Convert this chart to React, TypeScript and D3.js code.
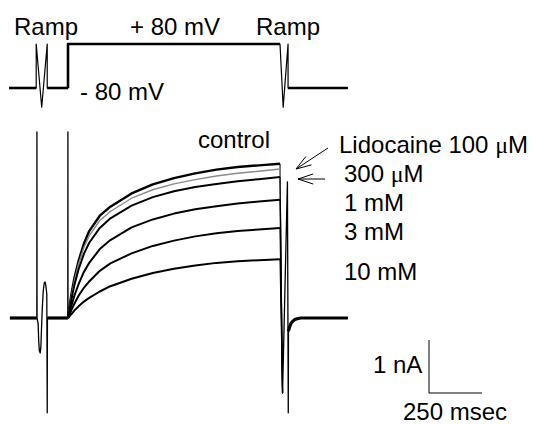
import React from "react";
import * as d3 from "d3";

// time (ms) from step onset, current (nA)
const stepTimes = [0, 15, 30, 50, 75, 100, 150, 200, 300, 400, 500, 600, 700, 800, 900, 1000];
const control = [0, 0.42, 0.75, 1.08, 1.4, 1.64, 1.93, 2.1, 2.35, 2.52, 2.64, 2.73, 2.8, 2.85, 2.88, 2.91];
const lido100uM = [0, 0.38, 0.7, 1.02, 1.33, 1.55, 1.84, 2.01, 2.26, 2.42, 2.53, 2.61, 2.68, 2.73, 2.77, 2.81];
const lido300uM = [0, 0.33, 0.62, 0.92, 1.21, 1.42, 1.7, 1.88, 2.12, 2.28, 2.39, 2.47, 2.53, 2.58, 2.62, 2.66];
const lido1mM = [0, 0.22, 0.42, 0.64, 0.87, 1.04, 1.3, 1.47, 1.71, 1.86, 1.97, 2.05, 2.11, 2.16, 2.2, 2.23];
const lido3mM = [0, 0.14, 0.27, 0.42, 0.57, 0.69, 0.89, 1.03, 1.22, 1.36, 1.46, 1.54, 1.6, 1.64, 1.67, 1.7];
const lido10mM = [0, 0.07, 0.14, 0.22, 0.31, 0.38, 0.5, 0.6, 0.74, 0.85, 0.93, 0.99, 1.04, 1.07, 1.09, 1.11];

// ramp + capacitive transients before the step
const preTimes = [-274, -147, -146.5, -146, -141, -138, -135, -131, -128, -125, -121, -117, -112, -108, -104, -100, -98, -97, -1, -0.4, 0];
const preCurrent = [0, 0, 3.51, 0, -0.1, -0.45, -0.62, -0.66, -0.55, -0.2, 0.2, 0.5, 0.66, 0.68, 0.6, 0.45, -1.79, 0, 0, 3.51, 0];

// after the step: ramp, repolarisation and tail
const dropTime = 1012;
const dropCurrent = -1.42;
const postTimes = [1012, 1035, 1039, 1040, 1043, 1047, 1052, 1060, 1070, 1085, 1100, 1320];
const postCurrent = [-1.42, 2.57, -1.79, -0.25, -0.2, -0.15, -0.1, -0.06, -0.03, -0.01, 0, 0];

// voltage protocol
const protoTimes = [-278, -150, -150, -124, -98, -98, 0, 0, 1000, 1015, 1038, 1038, 1320];
const protoVolts = [-80, -80, 80, -150, 80, -80, -80, 80, 80, -150, 80, -80, -80];

const traces = [
  { name: "control", values: control, color: "#000", width: 2.4 },
  { name: "100 uM", values: lido100uM, color: "#8a8a8a", width: 1.4 },
  { name: "300 uM", values: lido300uM, color: "#000", width: 2 },
  { name: "1 mM", values: lido1mM, color: "#000", width: 2 },
  { name: "3 mM", values: lido3mM, color: "#000", width: 2 },
  { name: "10 mM", values: lido10mM, color: "#000", width: 2 },
];

const x = d3.scaleLinear().domain([0, 1000]).range([68, 280]);
const yI = d3.scaleLinear().domain([0, 1]).range([318, 265]);
const yV = d3.scaleLinear().domain([-80, 80]).range([88, 44]);

type P = [number, number];
const lineI = d3.line<P>().x((d) => x(d[0])).y((d) => yI(d[1]));
const lineV = d3.line<P>().x((d) => x(d[0])).y((d) => yV(d[1]));

const zip = (a: number[], b: number[]): P[] => a.map((t, i) => [t, b[i]]);

const font = "'Liberation Sans', Arial, Helvetica, sans-serif";

function arrow(tipX: number, tipY: number, tailX: number, tailY: number) {
  const a = Math.atan2(tailY - tipY, tailX - tipX);
  const L = 16;
  const h = 0.32;
  const p1 = [tipX + L * Math.cos(a + h), tipY + L * Math.sin(a + h)];
  const p2 = [tipX + L * Math.cos(a - h), tipY + L * Math.sin(a - h)];
  return `M${tailX},${tailY}L${tipX},${tipY}M${p1[0]},${p1[1]}L${tipX},${tipY}L${p2[0]},${p2[1]}`;
}

export default function App() {
  const proto = zip(protoTimes, protoVolts);
  const pre = zip(preTimes, preCurrent);
  const post = zip(postTimes, postCurrent);

  // horizontal holding levels drawn heavier
  const levels: P[][] = [
    [proto[0], proto[1]],
    [proto[5], proto[6]],
    [proto[6], proto[7], proto[8]],
    [proto[11], proto[12]],
  ];

  const barX0 = 429;
  const barY0 = 393;
  const barW = x(250) - x(0);
  const barH = yI(0) - yI(1);

  return (
    <svg
      width={535}
      height={424}
      style={{ position: "absolute", left: 0, top: 0, background: "#fff" }}
    >
      <g fill="none" stroke="#000" strokeLinejoin="round">
        {/* voltage protocol */}
        <path d={lineV(proto) || ""} strokeWidth={1.2} />
        {levels.map((seg, i) => (
          <path key={i} d={lineV(seg) || ""} strokeWidth={2.6} />
        ))}

        {/* currents */}
        <path d={lineI(pre) || ""} strokeWidth={1.3} />
        <path d={lineI([pre[0], pre[1]]) || ""} strokeWidth={3.2} />
        <path d={lineI([pre[17], pre[18]]) || ""} strokeWidth={3.2} />
        {traces.map((tr) => {
          const pts = zip(stepTimes, tr.values);
          return (
            <g key={tr.name} stroke={tr.color}>
              <path d={lineI(pts) || ""} strokeWidth={tr.width} />
              <path
                d={lineI([pts[pts.length - 1], [dropTime, dropCurrent]]) || ""}
                strokeWidth={1.1}
              />
            </g>
          );
        })}
        <path d={lineI(post) || ""} strokeWidth={1.3} />
        <path d={lineI(post.slice(3)) || ""} strokeWidth={3.2} />

        {/* arrows */}
        <path d={arrow(296, 169, 328, 148)} strokeWidth={1} />
        <path d={arrow(298, 179, 325, 179)} strokeWidth={1} />

        {/* scale bar */}
        <path
          d={`M${barX0},${barY0 - barH}L${barX0},${barY0}L${barX0 + barW},${barY0}`}
          strokeWidth={1}
        />
      </g>

      <g fontFamily={font} fontSize={24} fill="#000">
        <text x={14} y={35}>Ramp</text>
        <text x={130} y={35}>+ 80 mV</text>
        <text x={256} y={35}>Ramp</text>
        <text x={80} y={100}>- 80 mV</text>
        <text x={198} y={148}>control</text>
        <text x={339} y={153}>
          Lidocaine 100 <tspan fontFamily="'Liberation Serif', serif">μ</tspan>M
        </text>
        <text x={344} y={182}>
          300 <tspan fontFamily="'Liberation Serif', serif">μ</tspan>M
        </text>
        <text x={344} y={211}>1 mM</text>
        <text x={344} y={240}>3 mM</text>
        <text x={344} y={280}>10 mM</text>
        <text x={373} y={373}>1 nA</text>
        <text x={403} y={420}>250 msec</text>
      </g>
    </svg>
  );
}
